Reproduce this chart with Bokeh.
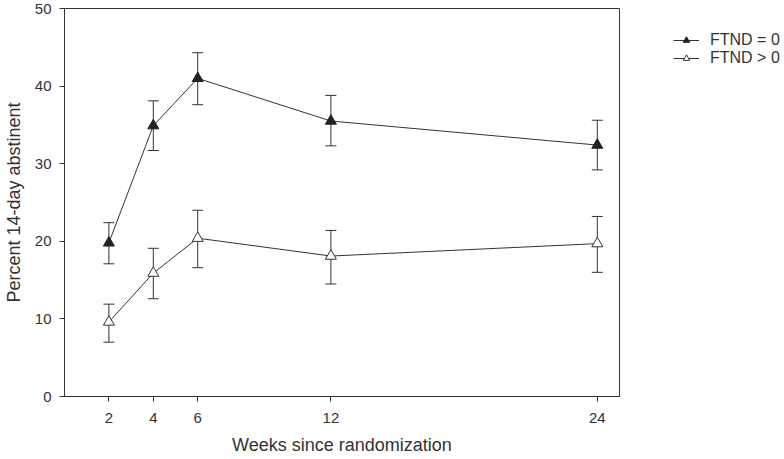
from bokeh.plotting import figure
from bokeh.models import ColumnDataSource, Whisker, TeeHead, Legend, LegendItem, Range1d, FixedTicker
from bokeh.embed import file_html
from bokeh.resources import INLINE

weeks = [2, 4, 6, 12, 24]
ftnd0 = [19.8, 34.9, 41.0, 35.5, 32.4]
ftnd0_lo = [17.1, 31.7, 37.6, 32.3, 29.2]
ftnd0_hi = [22.4, 38.1, 44.3, 38.8, 35.6]
ftndp = [9.6, 15.9, 20.4, 18.1, 19.7]
ftndp_lo = [7.0, 12.6, 16.6, 14.5, 16.0]
ftndp_hi = [11.9, 19.1, 24.0, 21.4, 23.2]
y_ticks = [0, 10, 20, 30, 40, 50]

FONT = "Liberation Sans"
DARK = "#333333"

p = figure(output_backend="svg", toolbar_location=None,
           frame_width=555, frame_height=388,
           min_border_left=63, min_border_right=166,
           min_border_top=8, min_border_bottom=63,
           x_range=Range1d(0, 25), y_range=Range1d(0, 50))

p.background_fill_color = "white"
p.border_fill_color = "white"
p.outline_line_color = DARK
p.outline_line_width = 1
p.xgrid.visible = False
p.ygrid.visible = False

p.xaxis.ticker = FixedTicker(ticks=weeks)
p.yaxis.ticker = FixedTicker(ticks=y_ticks)
for ax in (p.xaxis[0], p.yaxis[0]):
    ax.axis_line_color = DARK
    ax.major_tick_line_color = DARK
    ax.major_tick_out = 5
    ax.major_tick_in = 0
    ax.minor_tick_line_color = None
    ax.major_label_text_font = FONT
    ax.major_label_text_font_size = "15px"
    ax.major_label_text_color = DARK
    ax.axis_label_text_font = FONT
    ax.axis_label_text_font_size = "18px"
    ax.axis_label_text_font_style = "normal"
    ax.axis_label_text_color = DARK

p.xaxis.axis_label = "Weeks since randomization"
p.yaxis.axis_label = "Percent 14-day abstinent"
p.xaxis.major_label_standoff = 11
p.xaxis.axis_label_standoff = 9
p.yaxis.major_label_standoff = 8
p.yaxis.axis_label_standoff = 8

src0 = ColumnDataSource(dict(x=weeks, y=ftnd0, lo=ftnd0_lo, hi=ftnd0_hi))
srcp = ColumnDataSource(dict(x=weeks, y=ftndp, lo=ftndp_lo, hi=ftndp_hi))

l0 = p.line("x", "y", source=src0, line_color=DARK, line_width=1)
lp = p.line("x", "y", source=srcp, line_color=DARK, line_width=1)

for src in (src0, srcp):
    w = Whisker(base="x", upper="hi", lower="lo", source=src,
                line_color=DARK, line_width=1,
                upper_head=TeeHead(size=11, line_color=DARK, line_width=1),
                lower_head=TeeHead(size=11, line_color=DARK, line_width=1))
    p.add_layout(w)

m0 = p.scatter("x", "y", source=src0, marker="triangle", size=11,
               fill_color="#222222", line_color="#222222", line_width=1)
mp = p.scatter("x", "y", source=srcp, marker="triangle", size=11,
               fill_color="white", line_color=DARK, line_width=1)

legend = Legend(items=[LegendItem(label="FTND = 0", renderers=[l0, m0]),
                       LegendItem(label="FTND > 0", renderers=[lp, mp])],
                location=(54, 329), orientation="vertical")
legend.border_line_color = None
legend.background_fill_alpha = 0
legend.padding = 0
legend.margin = 0
legend.spacing = 0
legend.glyph_width = 26
legend.glyph_height = 16
legend.label_height = 16
legend.label_standoff = 11
legend.label_text_font = FONT
legend.label_text_font_size = "16px"
legend.label_text_color = DARK
p.add_layout(legend, "right")

open("out.html", "w").write(file_html(p, INLINE))
